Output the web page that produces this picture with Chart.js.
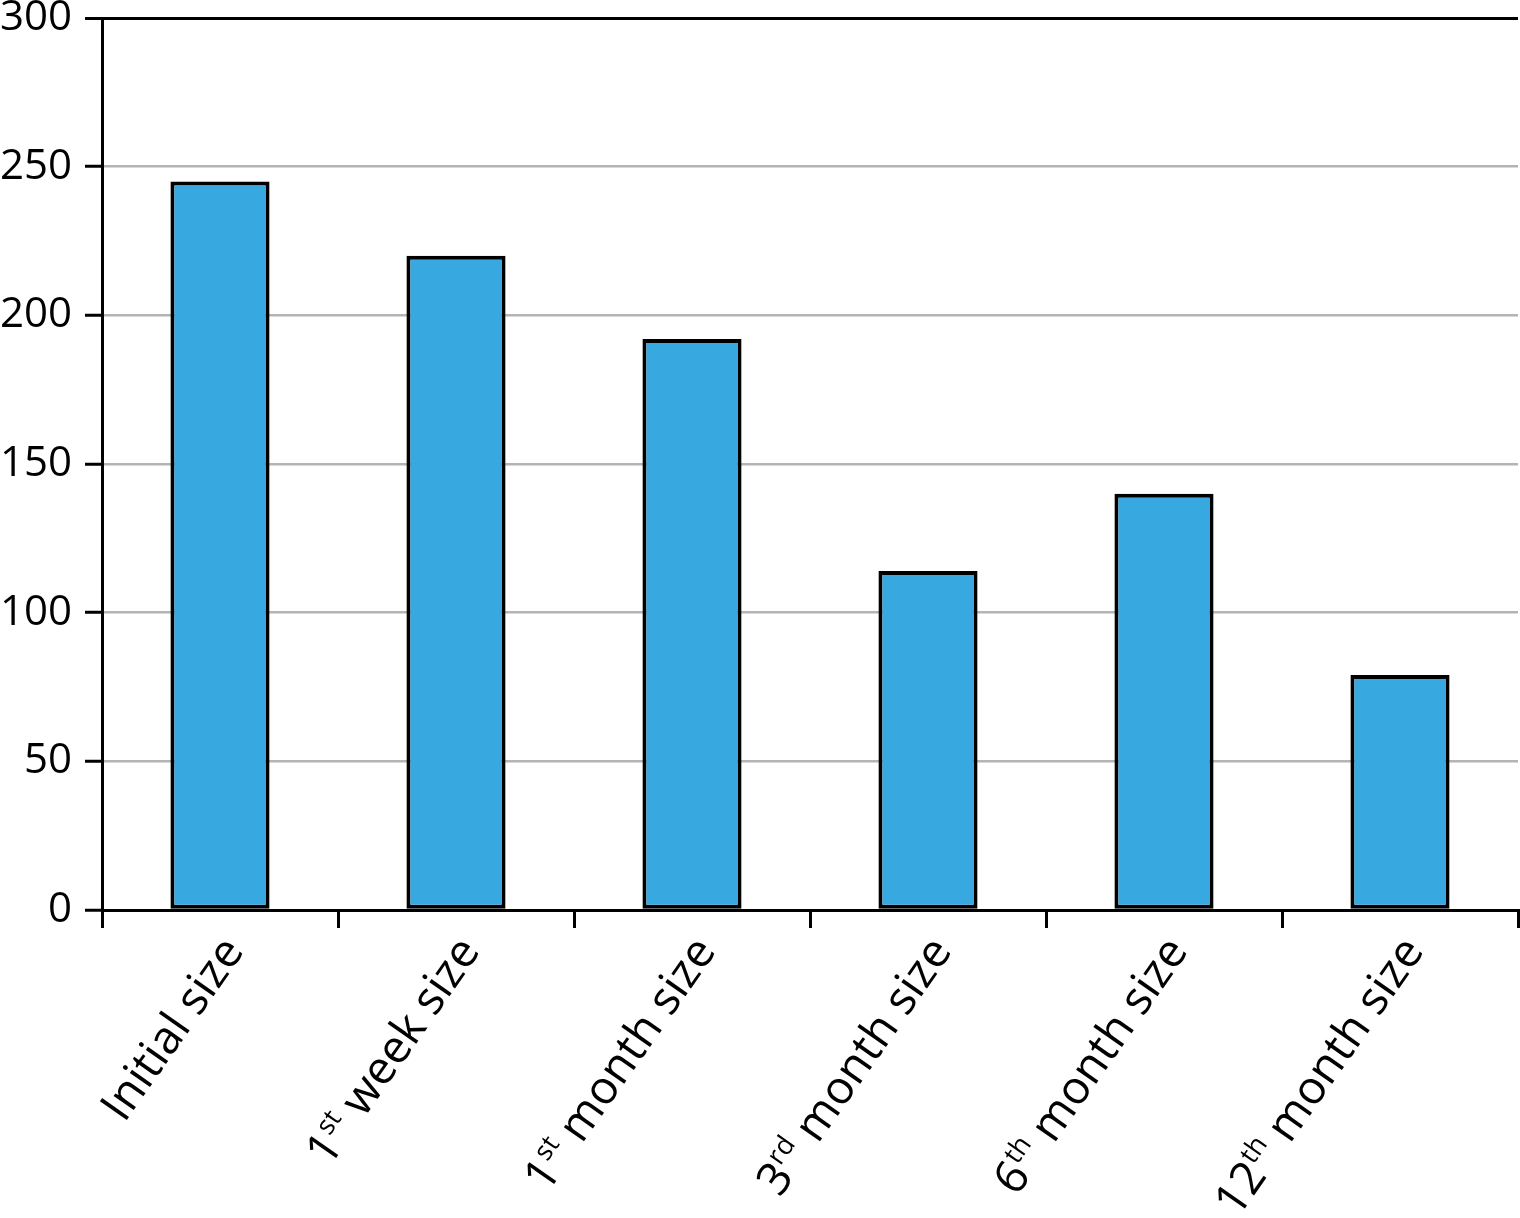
<!DOCTYPE html>
<html>
<head>
<meta charset="utf-8">
<script src="https://cdn.jsdelivr.net/npm/chart.js@4/dist/chart.umd.min.js"></script>
<style>
  html, body { margin: 0; padding: 0; background: #fff; }
</style>
</head>
<body>
<canvas id="chart" width="1520" height="1218"></canvas>
<script>
// category labels, split so the ordinal suffix can be drawn raised
const labelBase = ['Initial size', '1', '1', '3', '6', '12'];
const labelSup = ['', 'st', 'st', 'rd', 'th', 'th'];
const labelRest = ['', ' week size', ' month size', ' month size', ' month size', ' month size'];
const categories = labelBase.map((b, i) => b + labelSup[i] + labelRest[i]);

const sizes = [245, 220, 192, 114, 140, 79];

const yMin = 0;
const yMax = 300;
const yStep = 50;

const FONT = '"Open Sans", "Noto Sans", sans-serif';

// draws the rotated x labels with superscript suffixes
const superLabels = {
    id: 'superLabels',
    afterDraw(chart) {
        const ctx = chart.ctx;
        const xScale = chart.scales.x;
        const y0 = chart.chartArea.bottom + 32;
        const mainFont = `46px ${FONT}`;
        const supFont = `27px ${FONT}`;
        categories.forEach((_, i) => {
            const parts = [
                [labelBase[i], mainFont, 0],
                [labelSup[i], supFont, -18],
                [labelRest[i], mainFont, 0]
            ];
            ctx.save();
            let total = 0;
            parts.forEach(p => { ctx.font = p[1]; total += ctx.measureText(p[0]).width; });
            ctx.translate(xScale.getPixelForValue(i) + 12, y0);
            ctx.rotate(-55 * Math.PI / 180);
            ctx.fillStyle = '#000';
            ctx.textBaseline = 'alphabetic';
            let cx = -total;
            parts.forEach(p => {
                ctx.font = p[1];
                ctx.fillText(p[0], cx, 16 + p[2]);
                cx += ctx.measureText(p[0]).width;
            });
            ctx.restore();
        });
    }
};

new Chart(document.getElementById('chart'), {
    type: 'bar',
    data: {
        labels: categories,
        datasets: [{
            data: sizes,
            backgroundColor: '#38a8e0',
            borderColor: '#000',
            borderWidth: 4,
            borderSkipped: false,
            barPercentage: 0.42,
            categoryPercentage: 1
        }]
    },
    options: {
        responsive: false,
        animation: false,
        layout: { padding: { left: 0, right: 2, top: 18, bottom: 0 } },
        plugins: {
            legend: { display: false },
            tooltip: { enabled: false }
        },
        scales: {
            x: {
                offset: true,
                grid: {
                    offset: true,
                    drawOnChartArea: true,
                    color: c => c.index === categories.length ? '#000' : 'rgba(0,0,0,0)',
                    lineWidth: 3,
                    tickColor: '#000',
                    tickWidth: 3,
                    tickLength: 18
                },
                border: { color: '#000', width: 3 },
                ticks: { display: false },
                afterFit: scale => { scale.height = 308; }
            },
            y: {
                min: yMin,
                max: yMax,
                ticks: {
                    stepSize: yStep,
                    color: '#000',
                    padding: 13,
                    font: { family: FONT, size: 42 }
                },
                grid: {
                    color: c => c.tick && c.tick.value === yMax ? '#000' : '#b4b4b4',
                    lineWidth: c => c.tick && c.tick.value === yMax ? 3 : 2.5,
                    tickColor: '#000',
                    tickWidth: 3,
                    tickLength: 17
                },
                border: { color: '#000', width: 3 },
                afterFit: scale => {
                    scale.width = 102;
                    scale.paddingTop = 0;
                    scale.paddingBottom = 0;
                }
            }
        }
    },
    plugins: [superLabels]
});
</script>
</body>
</html>
